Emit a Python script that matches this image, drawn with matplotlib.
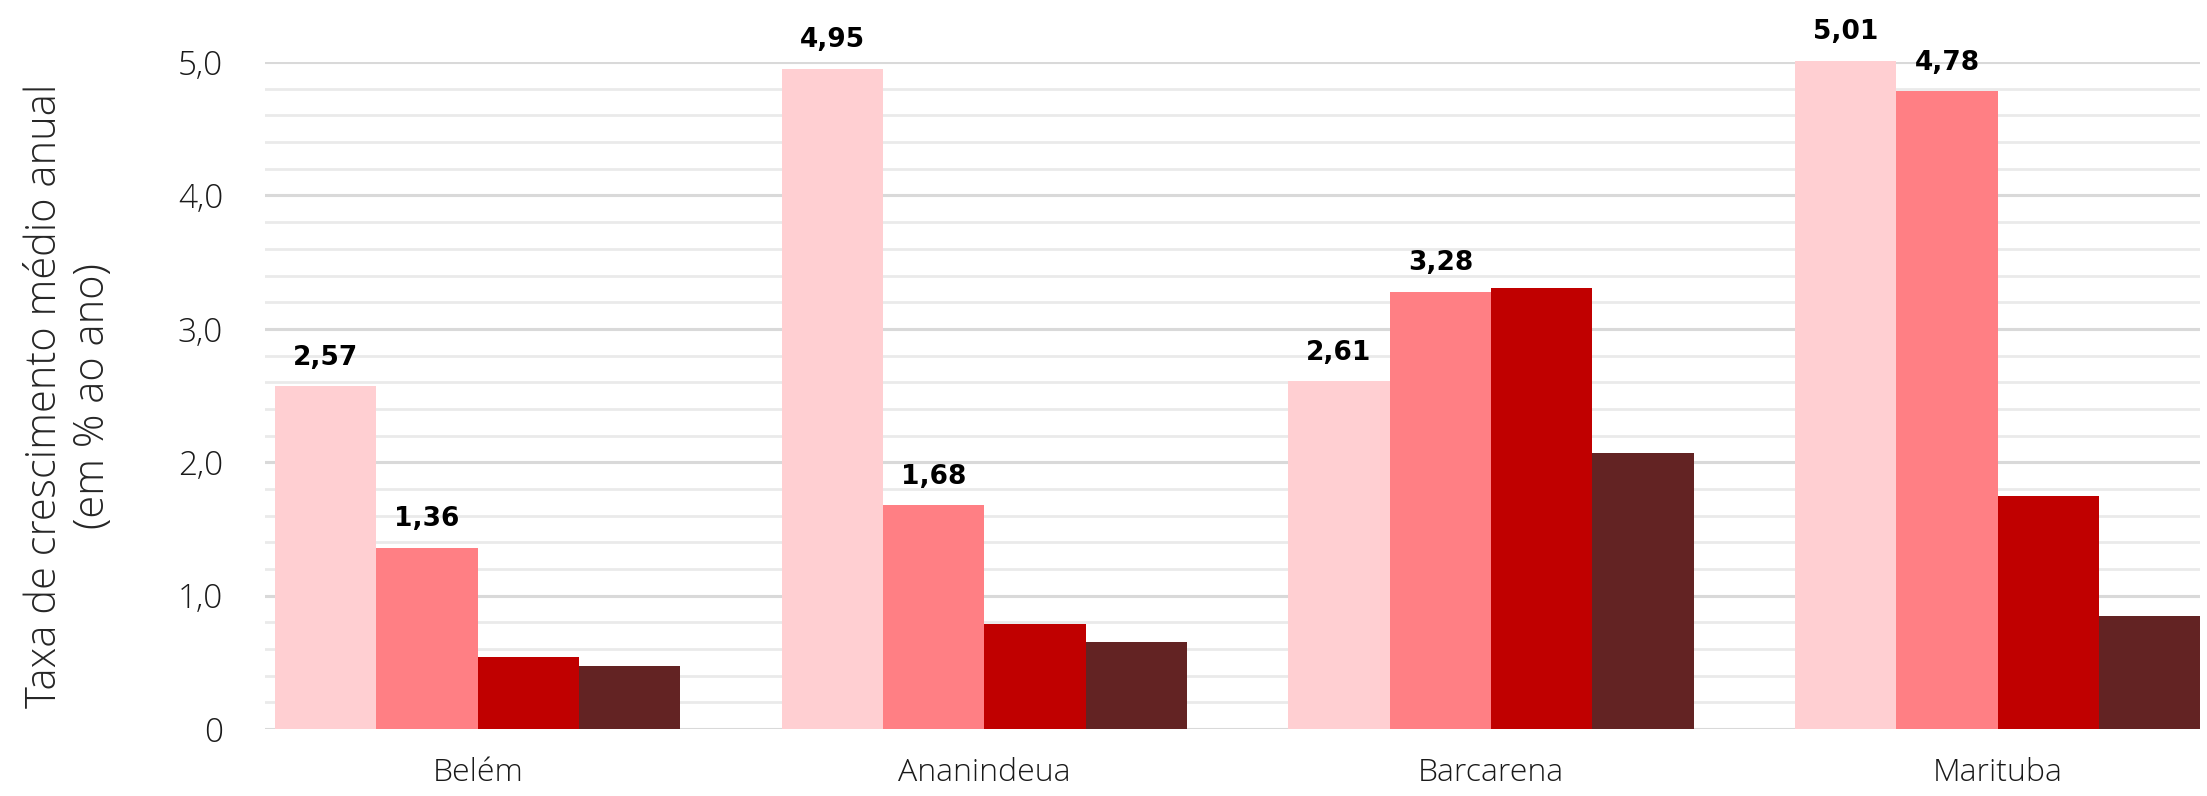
import matplotlib
matplotlib.use("Agg")
import matplotlib.pyplot as plt
import numpy as np
from matplotlib.ticker import MultipleLocator, FuncFormatter

# dados
municipios = ["Belém", "Ananindeua", "Barcarena", "Marituba"]
serie1 = [2.57, 4.95, 2.61, 5.01]
serie2 = [1.36, 1.68, 3.28, 4.78]
serie3 = [0.54, 0.79, 3.31, 1.75]
serie4 = [0.47, 0.65, 2.07, 0.85]
rotulos1 = ["2,57", "4,95", "2,61", "5,01"]
rotulos2 = ["1,36", "1,68", "3,28", "4,78"]

cores = ["#FFCFD2", "#FF7F84", "#C00000", "#632323"]

plt.rcParams['font.family'] = ['Open Sans', 'DejaVu Sans']

fig = plt.figure(figsize=(22.07, 7.96), dpi=100)
ax = fig.add_axes([0.12, 0.084, 0.877, 0.838])

x = np.arange(len(municipios))
w = 0.2
series = [serie1, serie2, serie3, serie4]
for k, s in enumerate(series):
    ax.bar(x + (k - 1.5) * w, s, width=w, color=cores[k], zorder=3, clip_on=False)

# rótulos de valor (só as duas primeiras séries)
for k, (s, rot) in enumerate([(serie1, rotulos1), (serie2, rotulos2)]):
    for i in range(len(x)):
        ax.annotate(rot[i], (x[i] + (k - 1.5) * w, s[i]), xytext=(0, 11),
                    textcoords="offset points", ha="center", va="bottom",
                    fontsize=19, fontweight="bold", color="black",
                    family=["DejaVu Sans"], annotation_clip=False, zorder=4)

ax.set_ylim(0, 5.0)
ax.set_xlim(-0.42, 3.40)
ax.yaxis.set_major_locator(MultipleLocator(1.0))
ax.yaxis.set_minor_locator(MultipleLocator(0.2))
ax.yaxis.set_major_formatter(FuncFormatter(lambda v, p: "0" if v == 0 else f"{v:.1f}".replace(".", ",")))
ax.grid(axis="y", which="major", color="#D9D9D9", linewidth=2.2, zorder=0)
ax.grid(axis="y", which="minor", color="#EAEAEA", linewidth=2.0, zorder=0)

ax.set_xticks(x)
ax.set_xticklabels(municipios, fontsize=23, color="#1a1a1a")
ax.tick_params(axis="x", length=0, pad=20)
ax.tick_params(axis="y", which="both", length=0, pad=30, labelsize=24, labelcolor="#1a1a1a")
for lab in ax.get_yticklabels() + ax.get_xticklabels():
    lab.set_fontweight("light")

for sp in ax.spines.values():
    sp.set_visible(False)

ax.set_ylabel("Taxa de crescimento médio anual\n(em % ao ano)", fontsize=30,
              fontweight="light", color="#262626", linespacing=1.15)
ax.yaxis.set_label_coords(-0.078, 0.5)

fig.savefig("out.png", dpi=100)
